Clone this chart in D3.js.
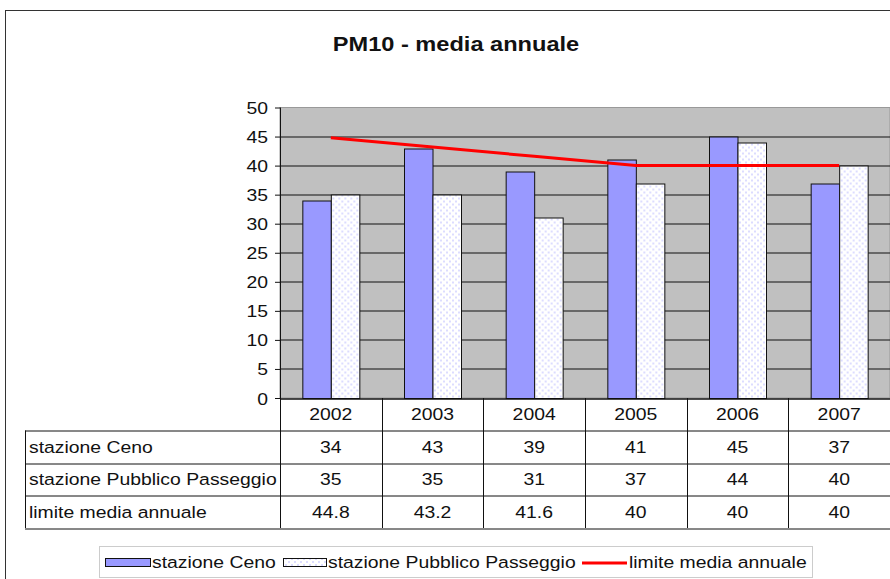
<!DOCTYPE html>
<html>
<head>
<meta charset="utf-8">
<script src="https://cdn.jsdelivr.net/npm/d3@7"></script>
<style>
  body { margin: 0; background: #fff; }
  text { font-family: "Liberation Sans", Arial, sans-serif; fill: #111; }
</style>
</head>
<body>
<div id="chart"></div>
<script>
(function () {

  // data
  var years = ["2002", "2003", "2004", "2005", "2006", "2007"];
  var ceno = [34, 43, 39, 41, 45, 37];
  var pubblico = [35, 35, 31, 37, 44, 40];
  var limite = [44.8, 43.2, 41.6, 40, 40, 40];
  var seriesNames = ["stazione Ceno", "stazione Pubblico Passeggio", "limite media annuale"];
  var limiteLabels = ["44.8", "43.2", "41.6", "40", "40", "40"];
  var yTicks = [0, 5, 10, 15, 20, 25, 30, 35, 40, 45, 50];

  var w = 890, h = 579;
  var sx = 1.14;   // the original text is a bit wider than Liberation Sans

  var margin = { top: 107.5, left: 280 };
  var plotH = 290.5;
  var plotW = 610;

  var svg = d3.select("#chart").append("svg")
    .attr("width", w)
    .attr("height", h);

  // wide text helper
  function wideText(parent, x, y, str, size, anchor, scale) {
    return parent.append("text")
      .attr("transform", "translate(" + x + "," + y + ") scale(" + (scale || sx) + ",1)")
      .attr("text-anchor", anchor || "start")
      .style("font-size", (size || 17) + "px")
      .text(str);
  }

  var defs = svg.append("defs");
  var pat = defs.append("pattern")
    .attr("id", "dots")
    .attr("width", 6)
    .attr("height", 6)
    .attr("patternUnits", "userSpaceOnUse");
  pat.append("rect").attr("width", 6).attr("height", 6).attr("fill", "#fff");
  pat.append("rect").attr("x", 0).attr("y", 0).attr("width", 2).attr("height", 2).attr("fill", "#dcdcff");
  pat.append("rect").attr("x", 3).attr("y", 3).attr("width", 2).attr("height", 2).attr("fill", "#dcdcff");

  // outer frame
  svg.append("rect")
    .attr("x", 5.5).attr("y", 10.5)
    .attr("width", 900).attr("height", 600)
    .attr("fill", "none")
    .attr("stroke", "#333")
    .attr("stroke-width", 1);

  wideText(svg, 456, 51, "PM10 - media annuale", 20, "middle", 1.18)
    .style("font-weight", "bold");

  var xScale = d3.scaleBand()
    .domain(years)
    .range([0, plotW]);

  var inner = d3.scaleBand()
    .domain(["ceno", "pubblico"])
    .range([0, 57]);

  var yScale = d3.scaleLinear()
    .domain([0, 50])
    .range([plotH, 0]);

  var g = svg.append("g")
    .attr("transform", "translate(" + margin.left + "," + margin.top + ")");

  g.append("rect")
    .attr("width", plotW)
    .attr("height", plotH)
    .attr("fill", "#c0c0c0")
    .attr("stroke", "#999");

  // gridlines
  g.selectAll(".grid")
    .data(yTicks.filter(function (d) { return d > 0 && d < 50; }))
    .enter()
    .append("line")
    .attr("x1", 0)
    .attr("x2", plotW)
    .attr("y1", function (d) { return Math.round(yScale(d)) + 0.5; })
    .attr("y2", function (d) { return Math.round(yScale(d)) + 0.5; })
    .attr("stroke", "#111")
    .attr("stroke-width", 1);

  var yAxis = d3.axisLeft(yScale)
    .tickValues(yTicks)
    .tickSize(5)
    .tickSizeOuter(0)
    .tickFormat("");

  var ya = g.append("g").call(yAxis);
  ya.select(".domain").remove();
  ya.selectAll("line").attr("stroke", "#111");
  ya.selectAll(".tick").each(function (d) {
    wideText(d3.select(this), -12, 6, String(d), 17, "end");
  });

  var groups = g.selectAll(".yr")
    .data(years)
    .enter()
    .append("g")
    .attr("transform", function (d) {
      return "translate(" + (xScale(d) + xScale.bandwidth() / 2 - 28.5) + ",0)";
    });

  groups.append("rect")
    .attr("x", function () { return inner("ceno") + 0.5; })
    .attr("y", function (d, i) { return Math.round(yScale(ceno[i])) + 0.5; })
    .attr("width", inner.bandwidth())
    .attr("height", function (d, i) { return plotH - Math.round(yScale(ceno[i])); })
    .attr("fill", "#9999ff")
    .attr("stroke", "#111");

  groups.append("rect")
    .attr("x", function () { return inner("pubblico") + 0.5; })
    .attr("y", function (d, i) { return Math.round(yScale(pubblico[i])) + 0.5; })
    .attr("width", inner.bandwidth())
    .attr("height", function (d, i) { return plotH - Math.round(yScale(pubblico[i])); })
    .attr("fill", "url(#dots)")
    .attr("stroke", "#111");

  var line = d3.line()
    .x(function (d, i) { return xScale(years[i]) + xScale.bandwidth() / 2; })
    .y(function (d) { return yScale(d); });

  g.append("path")
    .datum(limite)
    .attr("d", line)
    .attr("fill", "none")
    .attr("stroke", "#ff0000")
    .attr("stroke-width", 3);

  // y axis line (runs on through the table)
  var rowH = 32.5;
  var tableTop = plotH;
  var tableBottom = plotH + rowH * 4;

  g.append("line")
    .attr("x1", 0.5).attr("x2", 0.5)
    .attr("y1", 0).attr("y2", tableBottom)
    .attr("stroke", "#111");

  // data table
  var rows = [ceno, pubblico, limiteLabels];
  var labelLeft = -255;

  var hLines = [0, 1, 2, 3, 4];
  g.selectAll(".hl")
    .data(hLines)
    .enter()
    .append("line")
    .attr("x1", function (d) { return d === 0 ? 0 : labelLeft; })
    .attr("x2", plotW)
    .attr("y1", function (d) { return Math.round(tableTop + d * rowH) + 0.5; })
    .attr("y2", function (d) { return Math.round(tableTop + d * rowH) + 0.5; })
    .attr("stroke", "#111")
    .attr("stroke-width", function (d) { return d === 0 ? 1.5 : 1; });

  g.selectAll(".vl")
    .data(years)
    .enter()
    .append("line")
    .attr("x1", function (d) { return Math.round(xScale(d) + xScale.bandwidth()) + 0.5; })
    .attr("x2", function (d) { return Math.round(xScale(d) + xScale.bandwidth()) + 0.5; })
    .attr("y1", tableTop)
    .attr("y2", tableBottom)
    .attr("stroke", "#111");

  g.append("line")
    .attr("x1", labelLeft + 0.5).attr("x2", labelLeft + 0.5)
    .attr("y1", tableTop + rowH).attr("y2", tableBottom)
    .attr("stroke", "#111");

  years.forEach(function (yr) {
    wideText(g, xScale(yr) + xScale.bandwidth() / 2, tableTop + rowH / 2 + 6, yr, 17, "middle");
  });

  rows.forEach(function (row, r) {
    var cy = tableTop + rowH * (r + 1) + rowH / 2 + 6;
    wideText(g, labelLeft + 4, cy, seriesNames[r], 17, "start");
    row.forEach(function (v, i) {
      wideText(g, xScale(years[i]) + xScale.bandwidth() / 2, cy, String(v), 17, "middle");
    });
  });

  // legend
  var lg = svg.append("g").attr("transform", "translate(99,546)");
  lg.append("rect")
    .attr("x", 0.5).attr("y", 0.5)
    .attr("width", 713).attr("height", 31)
    .attr("fill", "#fff")
    .attr("stroke", "#ccc");

  lg.append("rect")
    .attr("x", 6.5).attr("y", 12.5)
    .attr("width", 45).attr("height", 8)
    .attr("fill", "#9999ff")
    .attr("stroke", "#111");
  wideText(lg, 53, 22, seriesNames[0], 17, "start");

  lg.append("rect")
    .attr("x", 184.5).attr("y", 12.5)
    .attr("width", 43).attr("height", 8)
    .attr("fill", "url(#dots)")
    .attr("stroke", "#111");
  wideText(lg, 229, 22, seriesNames[1], 17, "start");

  lg.append("line")
    .attr("x1", 483).attr("x2", 528)
    .attr("y1", 17).attr("y2", 17)
    .attr("stroke", "#ff0000")
    .attr("stroke-width", 3);
  wideText(lg, 530, 22, seriesNames[2], 17, "start");

})();
</script>
</body>
</html>
